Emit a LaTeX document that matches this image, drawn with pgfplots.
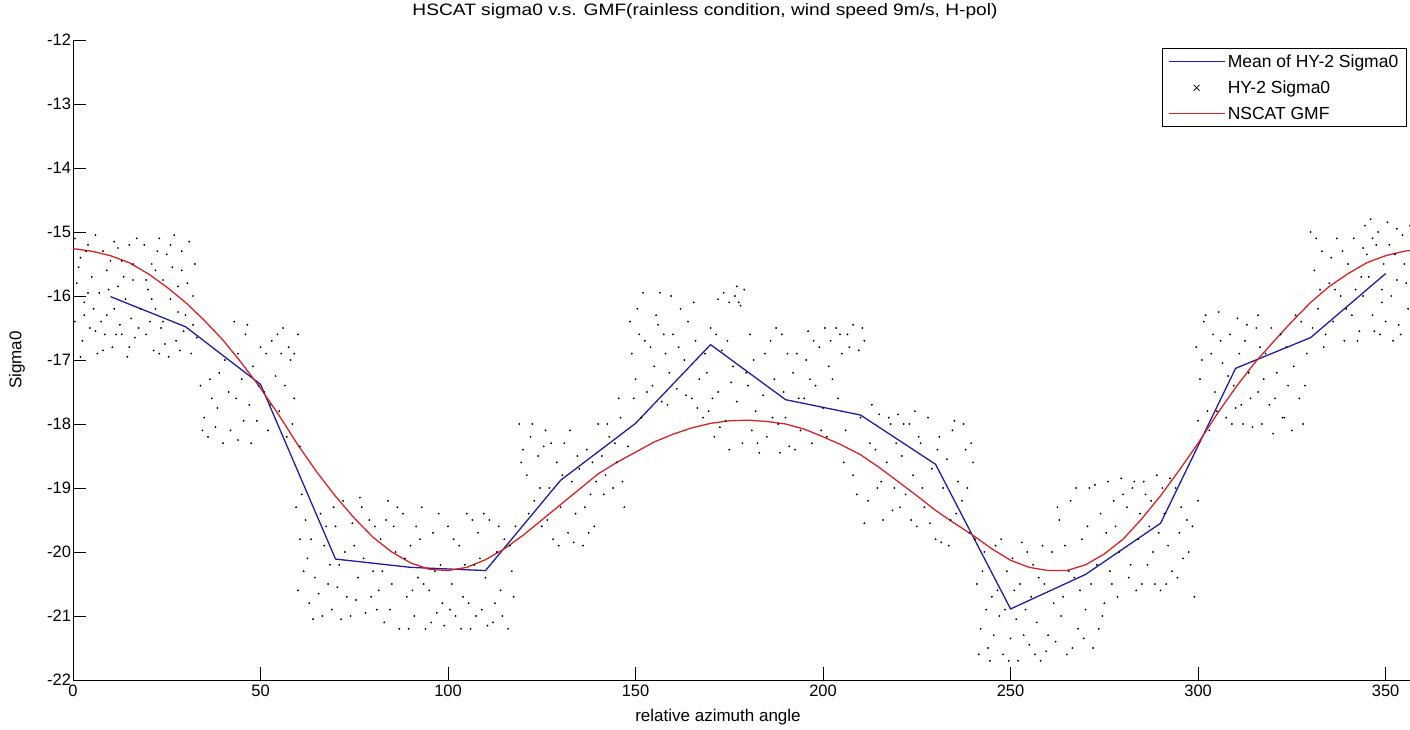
\documentclass[border=0pt]{standalone}
\usepackage{pgfplots}
\pgfplotsset{compat=1.18}
\usepackage{pgfplotstable}
\usepackage{fontspec}
\setmainfont{Liberation Sans}

\pgfplotstableread{
x y
10 -16.01
30 -16.48
50 -17.38
70 -20.11
90 -20.24
110 -20.29
130 -18.88
150 -17.99
170 -16.76
190 -17.62
210 -17.86
230 -18.63
250 -20.89
270 -20.35
290 -19.55
310 -17.13
330 -16.65
350 -15.65
}\meantab

\pgfplotstableread{
x y
0 -15.26
5 -15.30
10 -15.37
15 -15.48
20 -15.65
25 -15.86
30 -16.10
35 -16.38
40 -16.69
45 -17.05
50 -17.44
55 -17.87
60 -18.33
65 -18.75
70 -19.13
75 -19.47
80 -19.77
85 -20.00
90 -20.17
95 -20.27
100 -20.29
105 -20.24
110 -20.12
115 -19.95
120 -19.74
125 -19.50
130 -19.26
135 -19.02
140 -18.78
145 -18.60
150 -18.44
155 -18.28
160 -18.16
165 -18.06
170 -17.99
175 -17.95
180 -17.94
185 -17.96
190 -18.00
195 -18.08
200 -18.20
205 -18.33
210 -18.48
215 -18.68
220 -18.90
225 -19.12
230 -19.35
235 -19.55
240 -19.74
245 -19.95
250 -20.13
255 -20.24
260 -20.29
265 -20.29
270 -20.20
275 -20.03
280 -19.80
285 -19.48
290 -19.12
295 -18.72
300 -18.30
305 -17.85
310 -17.43
315 -17.05
320 -16.72
325 -16.40
330 -16.10
335 -15.85
340 -15.65
345 -15.48
350 -15.37
355 -15.30
360 -15.26
}\gmftab

\pgfplotstableread{
x y
0.5 -15.1
2 -15.4
4 -15.2
6 -15.05
8 -15.3
11 -15.15
13 -15.45
15 -15.2
17 -15.1
1 -15.8
3 -16.1
5 -15.7
7 -15.95
9 -16.3
12 -15.85
14 -16.05
16 -15.75
18 -16.2
0.5 -16.4
2.5 -16.7
4.5 -16.5
6.5 -16.9
8.5 -16.6
10.5 -16.8
12.5 -16.45
14.5 -16.95
16.5 -16.65
3 -16.3
9 -15.6
13 -16.6
11 -16.2
6 -16.55
15.5 -16.35
1.5 -15.55
3.5 -15.3
5.5 -16.2
7.5 -16.4
9.5 -15.9
10 -15.45
11.5 -16.6
13.5 -15.7
15 -16.8
16 -15.5
17.5 -16.5
2 -16.95
8 -16.85
12 -15.25
4 -15.95
19 -15.2
21 -15.5
23 -15.1
25 -15.35
27 -15.05
29 -15.6
31 -15.15
32.5 -15.5
20 -15.9
22 -16.2
24 -15.75
26 -16.05
28 -15.85
30 -16.3
32 -16.0
19.5 -16.6
21.5 -16.85
23.5 -16.5
25.5 -16.95
27.5 -16.7
29.5 -16.55
31.5 -16.9
33 -16.65
24 -16.4
28 -16.25
22 -15.6
19.5 -15.75
20.5 -16.4
22.5 -15.3
24.5 -16.75
26.5 -15.55
28.5 -16.85
30.5 -15.8
32 -16.45
26 -15.2
21 -16.05
29 -15.3
23 -16.9
34 -17.4
35 -17.9
36 -18.2
37 -17.6
38 -18.05
39 -17.2
40 -18.3
41.5 -17.5
43 -16.4
44 -16.9
45 -17.3
46 -16.6
47 -17.7
48 -17.1
49 -17.95
50 -16.8
51 -17.5
52 -18.1
53 -16.7
54 -17.25
55 -17.8
56 -16.5
57 -18.2
58 -17.0
59 -17.6
60 -16.6
60.5 -18.35
55.5 -16.9
47.5 -18.3
42 -18.1
34.5 -18.1
36.5 -17.3
38.5 -17.75
40.5 -17.0
43.5 -17.6
45.5 -17.95
46.5 -16.45
49.5 -17.4
51.5 -16.9
52.5 -17.7
54.5 -16.6
56.5 -17.4
57.5 -16.8
58.5 -18.0
59 -16.9
44 -18.25
59.5 -19.3
60.5 -19.8
61.5 -20.3
62 -19.5
63 -20.8
64 -21.05
62.5 -20.1
66 -19.4
67 -19.9
68 -20.5
69 -20.9
70 -19.6
71 -20.2
72 -19.2
73 -20.7
74 -21.0
75 -19.9
76 -20.4
77 -19.3
78 -20.95
70.5 -20.55
74.5 -19.55
65.5 -20.65
66.5 -21.0
60 -20.6
61 -19.1
63.5 -19.8
64.5 -20.4
67.5 -19.6
68.5 -20.2
71.5 -21.05
72.5 -20.0
75.5 -20.75
76.5 -19.15
77.5 -20.1
69.5 -19.3
79 -19.5
80 -20.3
81 -20.9
82 -19.8
83 -21.1
84 -19.2
85 -20.5
86 -20.0
87 -21.2
88 -19.4
89 -20.7
90 -19.9
91 -21.0
92 -20.4
93 -19.3
94 -21.2
95 -20.6
96 -19.7
97 -20.95
98 -20.2
99 -21.15
85.5 -19.6
91.5 -19.6
81.5 -20.6
95.5 -21.1
79.5 -20.7
80.5 -19.6
82.5 -20.3
84.5 -20.9
86.5 -19.3
88.5 -20.1
89.5 -21.2
90.5 -20.6
92.5 -19.8
93.5 -20.5
96.5 -20.3
97.5 -19.4
98.5 -20.8
83.5 -19.5
100 -19.6
101 -20.5
102 -21.0
103 -19.9
104 -20.7
105 -19.4
106 -21.2
107 -20.2
108 -19.7
109 -20.9
110 -20.4
111 -19.5
112 -21.1
113 -20.0
114 -20.6
115 -19.8
116 -21.2
117 -20.3
118 -19.6
103.5 -21.2
112.5 -20.8
108.5 -20.1
100.5 -20.9
101.5 -19.8
104.5 -20.2
105.5 -20.8
106.5 -19.5
107.5 -21.0
109.5 -19.4
110.5 -21.15
113.5 -19.6
114.5 -21.0
116.5 -19.9
117.5 -20.7
119 -18.0
120 -18.4
121 -18.8
122 -18.2
123 -19.2
124 -18.5
125 -19.6
126 -18.1
127 -19.0
128 -19.8
129 -18.6
130 -19.3
131 -18.3
132 -19.7
133 -18.9
134 -19.4
135 -18.7
136 -19.9
137 -18.4
138 -19.1
139 -19.6
140 -18.0
125.5 -18.35
133.5 -19.85
119.5 -18.6
121.5 -19.4
122.5 -18.0
124.5 -19.0
126.5 -19.5
127.5 -18.3
129.5 -19.9
130.5 -18.8
132.5 -18.1
134.5 -18.5
136.5 -19.3
137.5 -19.7
138.5 -18.6
139.5 -18.9
141 -18.5
142 -18.8
143 -18.2
144 -19.0
145 -18.6
146 -17.9
147 -19.3
148 -18.35
148.5 -16.4
149 -16.9
150 -17.3
151 -16.6
152 -15.95
153 -17.5
154 -16.8
155 -17.1
156 -16.45
157 -17.65
158 -16.9
159 -17.2
160 -16.6
161 -17.45
162 -16.2
163 -17.0
164 -16.4
165 -17.6
166 -16.7
167 -17.3
156.5 -15.95
145.5 -17.6
141.5 -19.1
142.5 -18.0
144.5 -18.3
146.5 -18.9
149.5 -17.6
150.5 -16.2
151.5 -17.9
152.5 -16.7
154.5 -17.4
155.5 -16.3
157.5 -16.6
158.5 -17.7
159.5 -16.0
161.5 -16.8
163.5 -17.55
165.5 -16.1
166.5 -17.75
168 -17.9
169 -17.2
170 -16.5
171 -18.2
172 -17.5
173 -16.85
174 -17.95
175 -18.4
176 -17.1
172 -16.05
173.5 -15.95
175 -16.1
176.5 -16.0
178 -16.15
179 -15.9
177 -17.65
178.5 -18.3
180 -17.4
181 -18.1
182 -17.8
183 -18.45
184 -17.55
185 -18.2
170.5 -17.6
180.5 -16.6
168.5 -16.9
169.5 -17.8
171.5 -16.6
172.5 -18.05
174.5 -16.7
175.5 -17.35
177.5 -16.1
179.5 -17.2
181.5 -17.0
182.5 -18.3
184.5 -16.9
177 -15.85
186 -16.7
187 -17.3
188 -18.0
189 -16.6
190 -17.9
191 -18.35
192 -17.2
193 -16.9
194 -18.1
195 -17.6
196 -16.55
197 -18.3
198 -17.4
199 -16.8
200 -17.75
201 -18.2
188.5 -18.45
195.5 -17.0
186.5 -17.9
187.5 -16.5
189.5 -17.5
190.5 -16.9
192.5 -18.4
193.5 -17.6
196.5 -17.3
197.5 -16.7
199.5 -18.1
200.5 -16.5
201.5 -17.1
202 -16.7
203.5 -16.5
205 -16.9
206.5 -16.6
208 -16.45
209.5 -16.85
211 -16.7
204 -17.6
206 -18.1
208 -18.8
210 -17.9
212 -19.2
214 -18.4
216 -19.5
218 -18.0
219 -19.0
213 -17.7
217 -18.6
211 -19.55
215 -17.85
202.5 -17.3
204.5 -16.6
207 -16.8
209 -19.1
210.5 -16.5
212.5 -18.3
214.5 -19.0
215.5 -18.9
217.5 -17.9
218.5 -19.35
219.5 -18.3
205.5 -18.6
220 -17.85
221 -18.5
222 -19.1
223 -18.0
224 -18.8
225 -19.6
226 -18.3
227 -19.3
228 -17.9
229 -18.7
230 -19.8
231 -18.2
232 -19.0
233 -18.55
234 -19.5
235 -17.95
236 -18.9
237 -19.2
238 -18.4
239 -19.7
240 -18.6
224.5 -17.8
233.5 -19.9
220.5 -19.3
221.5 -18.0
223.5 -19.5
225.5 -18.2
226.5 -19.0
228.5 -19.55
230.5 -18.4
231.5 -19.85
234.5 -18.1
235.5 -19.4
237.5 -18.0
238.5 -19.0
239.5 -18.3
240.5 -19.8
241 -20.5
242 -21.2
243 -20.0
244 -21.5
245 -20.7
246 -19.9
247 -21.0
248 -21.6
249 -20.3
250 -21.35
251 -20.6
252 -21.7
253 -19.85
254 -20.9
255 -21.45
256 -20.2
257 -21.1
258 -21.7
259 -20.5
260 -21.3
244.5 -21.7
251.5 -21.05
256.5 -21.6
241.5 -21.6
242.5 -20.3
243.5 -20.9
245.5 -21.3
246.5 -20.6
247.5 -19.8
248.5 -20.9
249.5 -21.7
250.5 -20.1
252.5 -20.5
253.5 -21.3
254.5 -20.0
255.5 -20.7
257.5 -20.4
258.5 -19.9
259.5 -21.55
261 -20.0
262 -21.4
263 -19.5
264 -20.7
265 -21.6
266 -19.2
267 -20.4
268 -21.2
269 -19.8
270 -20.9
271 -19.0
272 -21.5
273 -20.2
274 -19.4
275 -20.8
276 -18.9
277 -20.5
278 -19.6
279 -20.0
280 -19.1
266.5 -21.5
274.5 -21.0
261.5 -20.8
262.5 -19.3
263.5 -21.0
264.5 -19.9
265.5 -20.3
267.5 -19.0
268.5 -20.6
269.5 -21.35
270.5 -19.6
271.5 -20.5
272.5 -18.95
273.5 -21.2
275.5 -19.7
276.5 -20.3
277.5 -19.2
278.5 -20.7
279.5 -18.85
281 -19.3
282 -20.2
283 -18.9
284 -19.8
285 -20.5
286 -19.1
287 -19.6
288 -20.0
289 -18.8
290 -20.6
291 -19.4
292 -19.9
293 -20.3
294 -19.0
295 -19.7
296 -20.1
297 -19.5
299 -20.7
300 -19.2
288.5 -20.5
281.5 -20.4
282.5 -19.0
283.5 -20.6
284.5 -19.4
285.5 -18.9
286.5 -20.2
287.5 -19.2
289.5 -19.7
290.5 -19.0
291.5 -20.5
292.5 -18.85
294.5 -20.4
295.5 -19.3
297.5 -20.0
298.5 -19.6
299.5 -16.8
300.5 -17.3
301.5 -16.4
302.5 -17.8
303.5 -16.9
304.5 -17.5
305.5 -16.25
306.5 -17.05
307.5 -17.9
308.5 -16.6
309.5 -17.4
310.5 -16.35
311.5 -17.7
312.5 -16.7
313.5 -17.2
314.5 -18.05
315.5 -16.5
303 -18.1
309 -18.0
300 -17.95
301 -17.0
302 -16.3
304 -16.6
305 -17.8
306 -16.7
308 -17.25
310 -17.75
311 -16.9
313 -16.45
314 -17.6
316 -16.3
312 -18.0
316 -17.5
317 -18.0
318 -16.9
319 -17.7
320 -18.15
321 -17.2
322 -16.6
323 -17.9
324 -17.4
325 -18.1
326 -16.3
327 -17.6
328 -18.0
329 -16.9
316.5 -16.8
317.5 -17.3
319.5 -16.5
320.5 -17.6
322.5 -17.9
323.5 -16.8
325.5 -17.1
327.5 -16.4
328.5 -17.4
330.5 -16.5
330 -15.0
331 -15.6
332 -16.2
333 -15.3
334 -16.6
335 -15.8
336 -16.4
337 -15.1
338 -16.0
339 -16.7
340 -15.5
341 -16.3
342 -15.9
343 -16.55
344 -15.25
331.5 -15.1
332.5 -15.9
333.5 -16.8
335.5 -15.4
336.5 -15.9
338.5 -15.3
339.5 -16.2
341.5 -15.1
342.5 -16.7
343.5 -15.7
344.5 -14.9
345.5 -15.7
346.5 -16.3
347.5 -15.2
348.5 -16.6
349.5 -15.5
350.5 -14.85
351.5 -16.0
352.5 -15.35
353.5 -16.45
354.5 -15.05
355.5 -15.8
356 -16.2
357 -15.4
358 -16.65
359 -15.6
346 -14.8
352 -16.7
356.5 -14.9
349 -16.1
344 -16.0
345 -15.35
347 -16.55
348 -15.0
349 -15.9
350 -16.4
351 -15.2
353 -15.75
354 -16.6
355 -15.5
357.5 -16.1
358.5 -15.0
359.5 -16.3
346.5 -15.1
353 -14.95
}\dotstab

\definecolor{mblue}{RGB}{30,30,165}
\definecolor{mred}{RGB}{215,35,35}

\begin{document}
\begin{tikzpicture}[x=1pt,y=1pt]
\useasboundingbox (0,0) rectangle (1410,-730);
\begin{axis}[
  scale only axis,
  width=1337pt, height=640pt,
  anchor=south west, at={(73pt,-680pt)},
  xmin=0, xmax=356.5, ymin=-22, ymax=-12,
  axis lines*=left,
  axis line style={-, line width=0.9pt},
  xtick={0,50,...,350}, ytick={-22,-21,...,-12},
  tick align=inside,
  major tick length=13pt,
  tick style={line width=0.9pt, black},
  xtick pos=bottom, ytick pos=left,
  ticklabel style={font=\fontsize{16.5}{18}\selectfont, /pgf/number format/assume math mode=true},
  y tick label style={xshift=1.5pt},
  x tick label style={yshift=-1pt},
  clip=true,
  legend style={at={(1162pt-73pt,632pt)}, anchor=north west, font=\fontsize{17.5}{19}\selectfont,
    draw=black, line width=0.9pt, inner xsep=6pt, inner ysep=4pt, row sep=8pt,
    legend cell align=left},
  legend image code/.code={\draw[#1] (0pt,0pt) -- (56pt,0pt);},
]
\addplot[mblue, line width=1.3pt] table[x=x,y=y] {\meantab};
\addlegendentry{Mean of HY-2 Sigma0}
\addplot[only marks, mark=*, mark size=0.7pt, black, mark options={draw=none, fill=black},
  legend image code/.code={\draw[black, line width=0.6pt] (24.5pt,-3pt) -- (30.5pt,3pt) (24.5pt,3pt) -- (30.5pt,-3pt);}] table[x=x,y=y] {\dotstab};
\addlegendentry{HY-2 Sigma0}
\addplot[mred, line width=1.3pt] table[x=x,y=y] {\gmftab};
\addlegendentry{NSCAT GMF}
\end{axis}
\node[font=\fontsize{16.5}{18}\selectfont, xscale=1.16] at (705,-11) {HSCAT sigma0 v.s. GMF(rainless condition, wind speed 9m/s, H-pol)};
\node[font=\fontsize{17}{19}\selectfont] at (718,-717) {relative azimuth angle};
\node[font=\fontsize{17}{19}\selectfont, rotate=90] at (17,-360) {Sigma0};
\end{tikzpicture}
\end{document}
